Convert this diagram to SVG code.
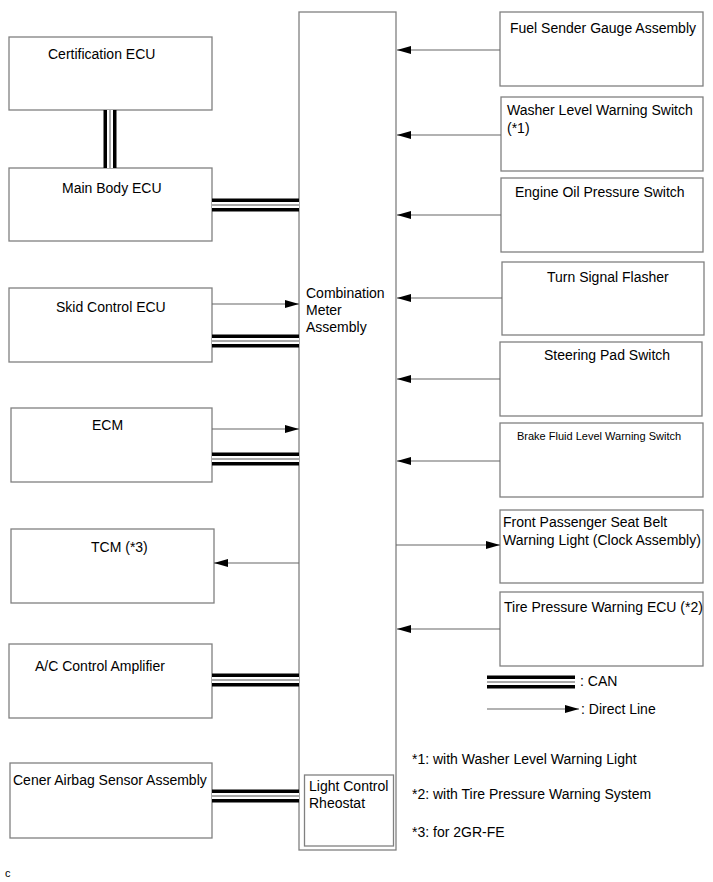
<svg xmlns="http://www.w3.org/2000/svg" width="713" height="882" viewBox="0 0 713 882">
<defs>
<marker id="ah" viewBox="0 0 14 8" refX="14" refY="4" markerWidth="14" markerHeight="8" markerUnits="userSpaceOnUse" orient="auto">
<path d="M0,0 L14,4 L0,8 Z" fill="#000"/>
</marker>
</defs>
<style>
.box{fill:#fff;stroke:#808080;stroke-width:1.3}
.t{font-family:"Liberation Sans",Arial,sans-serif;font-size:14px;fill:#000}
.s{font-family:"Liberation Sans",Arial,sans-serif;font-size:11px;fill:#000}
.dl{stroke:#666;stroke-width:1.2;fill:none}
.c1{stroke:#000;stroke-width:13;fill:none}
.c2{stroke:#fff;stroke-width:6;fill:none}
.c3{stroke:#555;stroke-width:1;fill:none}
</style>
<rect width="713" height="882" fill="#fff"/>

<g id="combination-meter">
<rect class="box" x="299" y="12" width="97" height="838"/>
<text class="t" x="306" y="298">Combination</text>
<text class="t" x="306" y="315">Meter</text>
<text class="t" x="306" y="332">Assembly</text>
</g>
<g id="light-control-rheostat">
<rect class="box" x="304.5" y="775" width="89" height="71"/>
<text class="t" x="309" y="791">Light Control</text>
<text class="t" x="309" y="808">Rheostat</text>
</g>

<g id="certification-ecu">
<rect class="box" x="9" y="37" width="203" height="73"/>
<text class="t" x="48" y="59">Certification ECU</text>
</g>
<g id="main-body-ecu">
<rect class="box" x="9" y="168" width="203" height="73"/>
<text class="t" x="62" y="193">Main Body ECU</text>
</g>
<g id="skid-control-ecu">
<rect class="box" x="9" y="288" width="203" height="74"/>
<text class="t" x="56" y="312">Skid Control ECU</text>
</g>
<g id="ecm">
<rect class="box" x="11" y="408" width="201" height="74"/>
<text class="t" x="92" y="430">ECM</text>
</g>
<g id="tcm">
<rect class="box" x="11" y="529" width="203" height="74"/>
<text class="t" x="91" y="552">TCM (*3)</text>
</g>
<g id="ac-control-amplifier">
<rect class="box" x="9" y="644" width="203" height="74"/>
<text class="t" x="35" y="671">A/C Control Amplifier</text>
</g>
<g id="center-airbag-sensor">
<rect class="box" x="10" y="763" width="202" height="75"/>
<text class="t" x="13" y="785">Cener Airbag Sensor Assembly</text>
</g>

<g id="fuel-sender-gauge">
<rect class="box" x="500" y="12" width="203" height="74"/>
<text class="t" x="510" y="33">Fuel Sender Gauge Assembly</text>
</g>
<g id="washer-level-warning-switch">
<rect class="box" x="501" y="97" width="202" height="74"/>
<text class="t" x="507" y="115">Washer Level Warning Switch</text>
<text class="t" x="507" y="133">(*1)</text>
</g>
<g id="engine-oil-pressure-switch">
<rect class="box" x="501" y="178" width="202" height="74"/>
<text class="t" x="515" y="197">Engine Oil Pressure Switch</text>
</g>
<g id="turn-signal-flasher">
<rect class="box" x="502" y="262" width="202" height="73"/>
<text class="t" x="547" y="282">Turn Signal Flasher</text>
</g>
<g id="steering-pad-switch">
<rect class="box" x="500" y="342" width="202" height="74"/>
<text class="t" x="544" y="360">Steering Pad Switch</text>
</g>
<g id="brake-fluid-level-warning-switch">
<rect class="box" x="500" y="423" width="203" height="74"/>
<text class="s" x="517" y="440">Brake Fluid Level Warning Switch</text>
</g>
<g id="front-passenger-seat-belt-warning-light">
<rect class="box" x="500" y="510" width="203" height="73"/>
<text class="t" x="503" y="527">Front Passenger Seat Belt</text>
<text class="t" x="503" y="545">Warning Light (Clock Assembly)</text>
</g>
<g id="tire-pressure-warning-ecu">
<rect class="box" x="500" y="592" width="203" height="74"/>
<text class="t" x="504" y="612">Tire Pressure Warning ECU (*2)</text>
</g>

<g id="connectors">
<!-- CAN lines -->
<path class="c1" d="M110,110 V168 M212,205 H299 M212,341 H299 M212,459 H299 M212,680 H299 M212,796 H299"/>
<path class="c2" d="M110,110 V168 M212,205 H299 M212,341 H299 M212,459 H299 M212,680 H299 M212,796 H299"/>
<path class="c3" d="M110,110 V168 M212,205 H299 M212,341 H299 M212,459 H299 M212,680 H299 M212,796 H299"/>
<!-- direct lines -->
<path class="dl" marker-end="url(#ah)" d="M212,304 H299"/>
<path class="dl" marker-end="url(#ah)" d="M212,429 H299"/>
<path class="dl" marker-end="url(#ah)" d="M299,563 H214"/>
<path class="dl" marker-end="url(#ah)" d="M500,50 H397"/>
<path class="dl" marker-end="url(#ah)" d="M501,135 H397"/>
<path class="dl" marker-end="url(#ah)" d="M501,215 H397"/>
<path class="dl" marker-end="url(#ah)" d="M502,298 H397"/>
<path class="dl" marker-end="url(#ah)" d="M500,379 H397"/>
<path class="dl" marker-end="url(#ah)" d="M500,461 H397"/>
<path class="dl" marker-end="url(#ah)" d="M396,545 H500"/>
<path class="dl" marker-end="url(#ah)" d="M500,629 H397"/>
</g>

<g id="legend">
<path class="c1" d="M487,682 H575"/>
<path class="c2" d="M487,682 H575"/>
<path class="c3" d="M487,682 H575"/>
<text class="t" x="580" y="686">: CAN</text>
<path class="dl" marker-end="url(#ah)" d="M487,709 H579"/>
<text class="t" x="581" y="714">: Direct Line</text>
<text class="t" x="412" y="764">*1: with Washer Level Warning Light</text>
<text class="t" x="412" y="799">*2: with Tire Pressure Warning System</text>
<text class="t" x="412" y="837">*3: for 2GR-FE</text>
</g>
<text class="s" x="5" y="877">c</text>
</svg>
